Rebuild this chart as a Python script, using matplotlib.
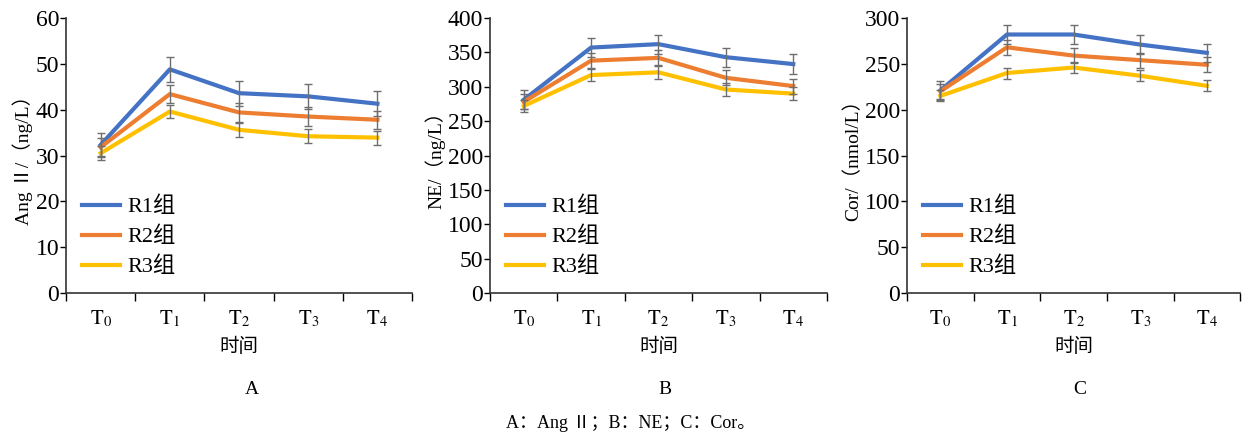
import matplotlib
matplotlib.use("Agg")
import matplotlib.pyplot as plt
import numpy as np

plt.rcParams["font.family"] = ["Liberation Serif", "Noto Sans CJK SC"]
plt.rcParams["mathtext.fontset"] = "stix"

times = [r"$\mathrm{T}_0$", r"$\mathrm{T}_1$", r"$\mathrm{T}_2$", r"$\mathrm{T}_3$", r"$\mathrm{T}_4$"]
groups = ["R1组", "R2组", "R3组"]
colors = ["#4472C4", "#ED7D31", "#FFC000"]

# Ang II (ng/L)
ang_r1 = [32.3, 48.8, 43.6, 42.9, 41.3]
ang_r2 = [31.8, 43.4, 39.4, 38.5, 37.8]
ang_r3 = [30.5, 39.6, 35.6, 34.2, 33.9]
ang_err = [2.7, 2.0, 1.5]

# NE (ng/L)
ne_r1 = [281, 357, 362, 343, 333]
ne_r2 = [278, 338, 342, 313, 301]
ne_r3 = [272, 317, 321, 296, 290]
ne_err = [14, 11, 9]

# Cor (nmol/L)
cor_r1 = [221, 282, 282, 271, 262]
cor_r2 = [220, 268, 259, 254, 249]
cor_r3 = [215, 240, 246, 237, 226]
cor_err = [10, 8, 6]

panels = [
    dict(series=[ang_r1, ang_r2, ang_r3], err=ang_err, ylim=60, step=10,
         ylabel="Ang Ⅱ/（ng/L）", letter="A", letter_x=252,
         rect=[0.0531, 0.3249, 0.2784, 0.6336]),
    dict(series=[ne_r1, ne_r2, ne_r3], err=ne_err, ylim=400, step=50,
         ylabel="NE/（ng/L）", letter="B", letter_x=665,
         rect=[0.3942, 0.3249, 0.2711, 0.6336]),
    dict(series=[cor_r1, cor_r2, cor_r3], err=cor_err, ylim=300, step=50,
         ylabel="Cor/（nmol/L）", letter="C", letter_x=1080,
         rect=[0.7297, 0.3249, 0.2680, 0.6336]),
]

fig = plt.figure(figsize=(12.43, 4.34), dpi=100)
x = np.arange(len(times))

for p in panels:
    ax = fig.add_axes(p["rect"])
    for vals, e, c, g in zip(p["series"], p["err"], colors, groups):
        ax.plot(x, vals, color=c, lw=3, label=g, zorder=2)
        ax.errorbar(x, vals, yerr=e, fmt="none", ecolor="#6e6e6e",
                    elinewidth=1, capsize=3, capthick=1, zorder=3)
    ax.set_xlim(-0.5, len(times) - 0.5)
    ax.set_ylim(0, p["ylim"])
    ax.set_yticks(np.arange(0, p["ylim"] + 1, p["step"]))
    ax.set_xticks(np.arange(-0.5, len(times)), [""] * (len(times) + 1))
    ax.set_xticks(x, times, minor=True)
    ax.tick_params(axis="x", which="major", length=6, width=1, direction="out")
    ax.tick_params(axis="x", which="minor", length=0, pad=11, labelsize=15)
    ax.tick_params(axis="y", length=4, width=1, direction="out", pad=1, labelsize=17)
    for s in ["top", "right"]:
        ax.spines[s].set_visible(False)
    for s in ["left", "bottom"]:
        ax.spines[s].set_color("#333333")
        ax.spines[s].set_linewidth(1.2)
    ax.set_ylabel(p["ylabel"], fontsize=14, labelpad=2)
    ax.set_xlabel("时间", fontsize=14, labelpad=6)
    ax.legend(loc="lower left", bbox_to_anchor=(0.0, 0.0), frameon=False,
              fontsize=16, handlelength=1.75, handletextpad=0.3, labelspacing=0.42,
              borderaxespad=0.3)
    fig.text(p["letter_x"] / 1243, 1 - 390 / 434, p["letter"], ha="center", va="center", fontsize=14)

fig.text(0.507, 1 - 424 / 434, "A：Ang Ⅱ；B：NE；C：Cor。", ha="center", va="center", fontsize=13)

fig.savefig("out.png", dpi=100)
